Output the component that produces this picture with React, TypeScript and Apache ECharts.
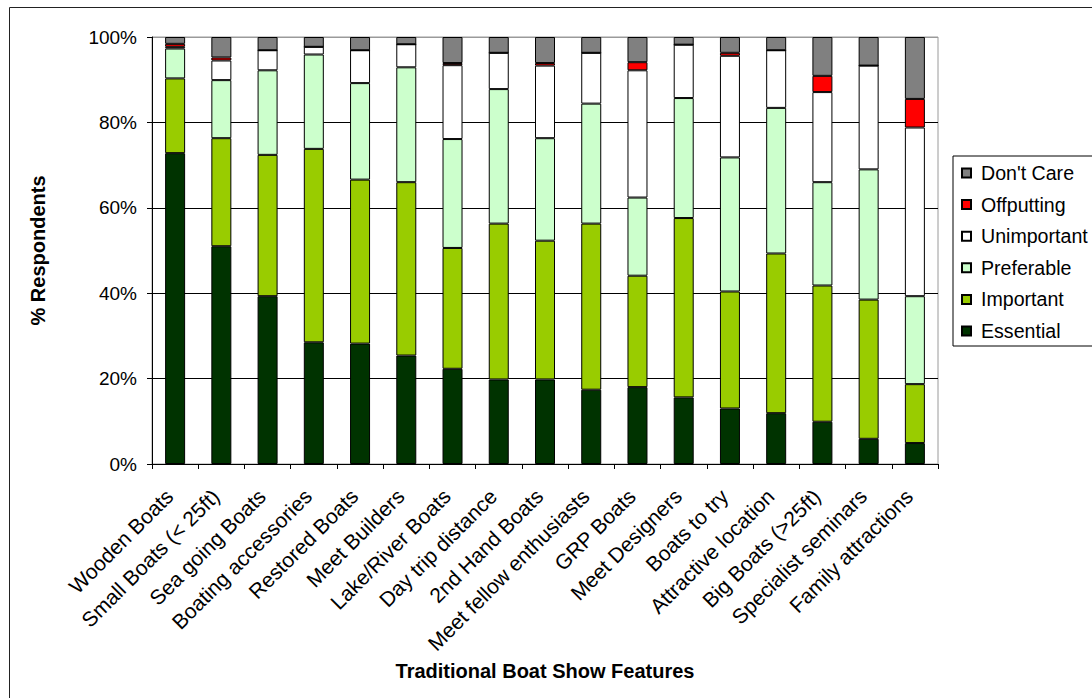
import React, { useEffect, useRef } from "react";
import * as echarts from "echarts";

const categories = [
  "Wooden Boats",
  "Small Boats (< 25ft)",
  "Sea going Boats",
  "Boating accessories",
  "Restored Boats",
  "Meet Builders",
  "Lake/River Boats",
  "Day trip distance",
  "2nd Hand Boats",
  "Meet fellow enthusiasts",
  "GRP Boats",
  "Meet Designers",
  "Boats to try",
  "Attractive location",
  "Big Boats (>25ft)",
  "Specialist seminars",
  "Family attractions",
];

const essential = [72.8, 51.0, 39.3, 28.5, 28.2, 25.4, 22.3, 19.8, 19.8, 17.4, 18.0, 15.6, 13.0, 11.9, 9.9, 5.9, 4.9];
const important = [17.5, 25.3, 33.1, 45.3, 38.4, 40.6, 28.3, 36.5, 32.5, 38.9, 26.1, 42.0, 27.4, 37.4, 31.9, 32.6, 13.8];
const preferable = [7.0, 13.6, 19.8, 22.1, 22.6, 26.9, 25.5, 31.5, 24.0, 28.1, 18.3, 28.1, 31.4, 34.1, 24.2, 30.5, 20.6];
const unimportant = [0.4, 4.6, 4.7, 1.8, 7.7, 5.4, 17.3, 8.5, 17.0, 11.9, 29.8, 12.5, 23.8, 13.5, 21.1, 24.3, 39.5];
const offputting = [0.7, 0.7, 0, 0, 0, 0, 0.5, 0, 0.6, 0, 1.9, 0, 0.7, 0, 3.8, 0, 6.7];
const dontCare = [1.6, 4.8, 3.1, 2.3, 3.1, 1.7, 6.1, 3.7, 6.1, 3.7, 5.9, 1.8, 3.7, 3.1, 9.1, 6.7, 14.5];

const yTicks = [0, 20, 40, 60, 80, 100];

const seriesDefs = [
  { name: "Essential", data: essential, color: "#003300" },
  { name: "Important", data: important, color: "#99CC00" },
  { name: "Preferable", data: preferable, color: "#CCFFCC" },
  { name: "Unimportant", data: unimportant, color: "#FFFFFF" },
  { name: "Offputting", data: offputting, color: "#FF0000" },
  { name: "Don't Care", data: dontCare, color: "#808080" },
];

const FONT = "'Liberation Sans', Arial, Helvetica, sans-serif";

export default function App() {
  const ref = useRef<HTMLDivElement>(null);

  useEffect(() => {
    if (!ref.current) return;
    const chart = echarts.init(ref.current, null, { renderer: "svg" });
    chart.setOption({
      animation: false,
      backgroundColor: "#ffffff",
      textStyle: { fontFamily: FONT, color: "#000" },
      graphic: [
        {
          type: "rect",
          left: 7,
          top: 5,
          shape: { width: 1200, height: 1000 },
          style: { fill: "none", stroke: "#222", lineWidth: 1 },
          silent: true,
        },
      ],
      grid: {
        left: 152,
        right: 154,
        top: 37,
        bottom: 234,
        containLabel: false,
        outerBoundsMode: "none",
        show: true,
        borderColor: "#9a9a9a",
        borderWidth: 1,
      },
      legend: {
        orient: "vertical",
        left: 953,
        top: 156,
        padding: [7, 40, 5, 8],
        itemWidth: 9,
        itemHeight: 9,
        itemGap: 11.6,
        icon: "rect",
        borderColor: "#000",
        borderWidth: 1,
        data: ["Don't Care", "Offputting", "Unimportant", "Preferable", "Important", "Essential"],
        textStyle: { fontSize: 19.6, fontFamily: FONT, color: "#000", padding: [0, 0, 0, 5] },
      },
      xAxis: {
        type: "category",
        data: categories,
        name: "Traditional Boat Show Features",
        nameLocation: "middle",
        nameGap: 197,
        nameTextStyle: { fontSize: 20, fontWeight: "bold", fontFamily: FONT, color: "#000" },
        axisLine: { show: true, lineStyle: { color: "#000", width: 1 } },
        axisTick: { show: true, length: 5, alignWithLabel: false, lineStyle: { color: "#000" } },
        axisLabel: {
          rotate: 45,
          interval: 0,
          margin: 23,
          padding: [0, 8, 0, 0],
          fontSize: 21,
          fontFamily: FONT,
          color: "#000",
        },
      },
      yAxis: {
        type: "value",
        min: 0,
        max: 100,
        interval: 20,
        name: "% Respondents",
        nameLocation: "middle",
        nameRotate: 90,
        nameGap: 104,
        nameTextStyle: { fontSize: 20, fontWeight: "bold", fontFamily: FONT, color: "#000" },
        axisLine: { show: true, lineStyle: { color: "#000", width: 1 } },
        axisTick: { show: true, length: 5, inside: false, lineStyle: { color: "#000" } },
        axisLabel: {
          margin: 15,
          fontSize: 19,
          fontFamily: FONT,
          color: "#000",
          formatter: (v: number) => (yTicks.includes(v) ? `${v}%` : ""),
        },
        splitLine: {
          show: true,
          lineStyle: { color: ["#000", "#000", "#000", "#000", "#000", "#9a9a9a"], width: 1 },
        },
      },
      series: seriesDefs.map((s) => ({
        name: s.name,
        type: "bar",
        stack: "total",
        barWidth: 20,
        data: s.data,
        itemStyle: { color: s.color, borderColor: "#000", borderWidth: 1 },
        emphasis: { disabled: true },
      })),
    });
    return () => chart.dispose();
  }, []);

  return (
    <div
      ref={ref}
      style={{ position: "fixed", left: 0, top: 0, width: 1092, height: 698 }}
    />
  );
}
